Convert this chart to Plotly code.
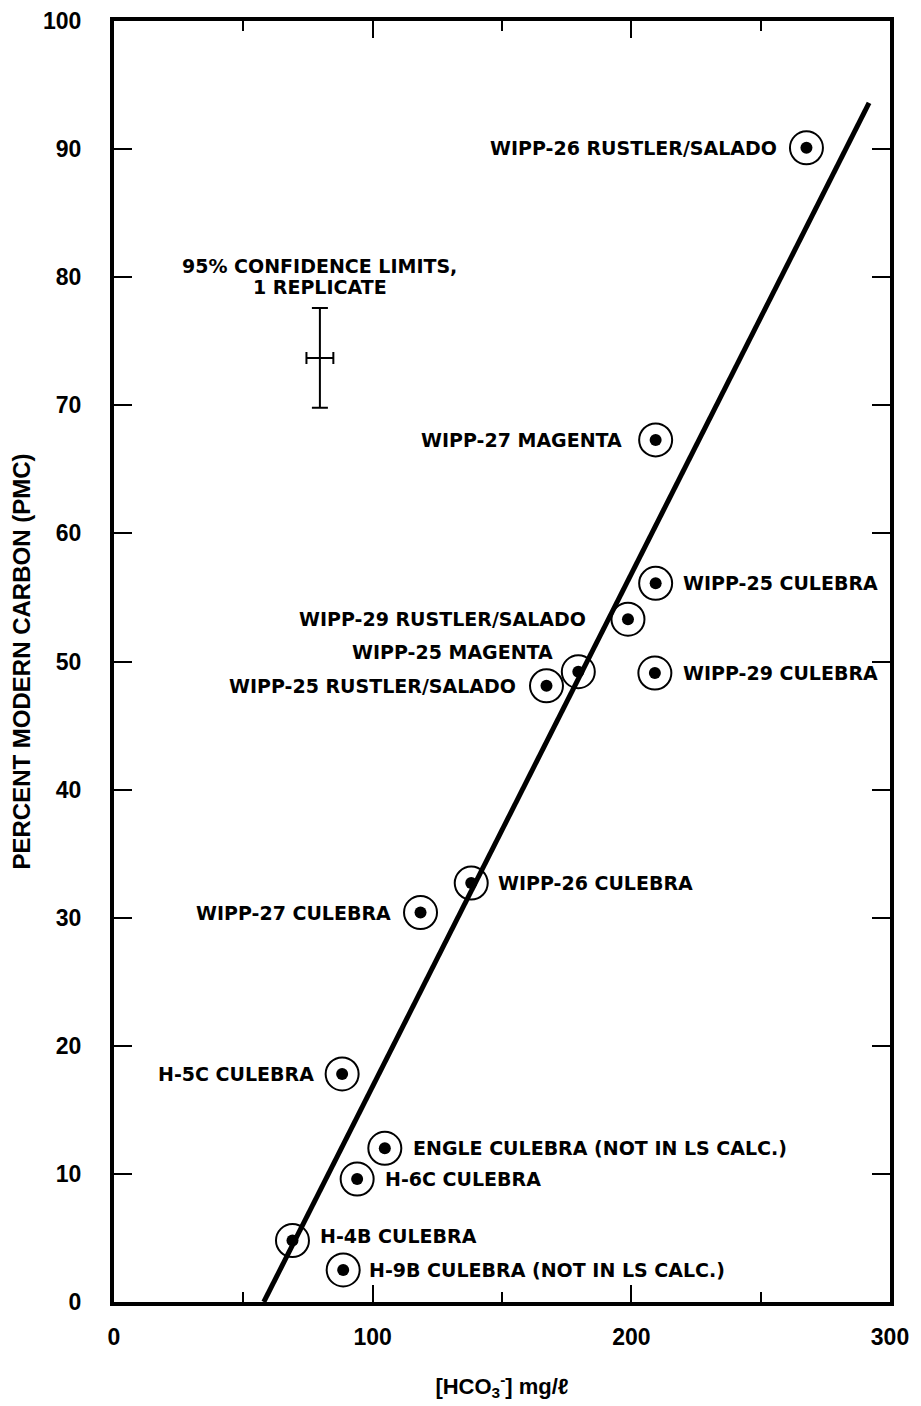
import plotly.graph_objects as go

# ---- data ----
site_labels = [
    "WIPP-26 RUSTLER/SALADO", "WIPP-27 MAGENTA", "WIPP-25 CULEBRA",
    "WIPP-29 RUSTLER/SALADO", "WIPP-25 MAGENTA", "WIPP-25 RUSTLER/SALADO",
    "WIPP-29 CULEBRA", "WIPP-26 CULEBRA", "WIPP-27 CULEBRA", "H-5C CULEBRA",
    "ENGLE CULEBRA (NOT IN LS CALC.)", "H-6C CULEBRA", "H-4B CULEBRA",
    "H-9B CULEBRA (NOT IN LS CALC.)",
]
hco3 = [267.7, 209.4, 209.4, 198.7, 179.5, 167.2, 209.1, 138.1, 118.5, 88.2,
        104.7, 94.0, 69.0, 88.6]
pmc = [90.1, 67.3, 56.1, 53.3, 49.2, 48.1, 49.1, 32.7, 30.4, 17.8,
       12.0, 9.6, 4.8, 2.5]

fit_x = [57.9, 291.9]
fit_y = [0.0, 93.6]

ci_x = [79.6]
ci_y = [73.7]
ci_dx = [5.2]
ci_dy = [3.9]

x_ticks = [0, 100, 200, 300]
y_ticks = [0, 10, 20, 30, 40, 50, 60, 70, 80, 90, 100]

# ---- label placement (style, not data) ----
label_side = ["L", "L", "R", "L", "L", "L", "R", "R", "L", "L", "R", "R", "R", "R"]
label_dx = [-27, -32, 25, -40, -23, -28, 26, 25, -28, -26, 26, 26, 26, 24]
label_dy = [0, 0, 0, 0, 20, 0, 0, 0, 0, 0, 0, 0, 5, 0]

BOLD = "DejaVu Sans"
fig = go.Figure()

fig.add_trace(go.Scatter(x=fit_x, y=fit_y, mode="lines",
                         line=dict(color="black", width=5), hoverinfo="skip"))

fig.add_trace(go.Scatter(x=hco3, y=pmc, mode="markers",
                         marker=dict(symbol="circle-open", size=33, color="black",
                                     line=dict(width=2, color="black"))))
fig.add_trace(go.Scatter(x=hco3, y=pmc, mode="markers",
                         marker=dict(symbol="circle", size=12, color="black")))

fig.add_trace(go.Scatter(
    x=ci_x, y=ci_y, mode="markers", marker=dict(size=1, color="black", opacity=0),
    error_x=dict(type="data", array=ci_dx, color="black", thickness=2, width=6),
    error_y=dict(type="data", array=ci_dy, color="black", thickness=2, width=8),
))

for lab, x, y, side, dx, dy in zip(site_labels, hco3, pmc, label_side, label_dx, label_dy):
    fig.add_annotation(x=x, y=y, text=lab, showarrow=False,
                       xanchor="right" if side == "L" else "left",
                       xshift=dx, yshift=dy,
                       font=dict(family=BOLD, size=19, color="black", weight="bold"))

fig.add_annotation(x=ci_x[0], y=ci_y[0], text="95% CONFIDENCE LIMITS,", showarrow=False,
                   xanchor="center", yshift=92,
                   font=dict(family=BOLD, size=19, color="black", weight="bold"))
fig.add_annotation(x=ci_x[0], y=ci_y[0], text="1 REPLICATE", showarrow=False,
                   xanchor="center", yshift=71,
                   font=dict(family=BOLD, size=19, color="black", weight="bold"))

fig.update_layout(
    width=921, height=1406,
    margin=dict(l=106, r=39, t=13, b=112, autoexpand=False),
    plot_bgcolor="white", paper_bgcolor="white",
    showlegend=False,
)
fig.update_xaxes(
    range=[0, 300], tickvals=x_ticks, ticktext=[str(v) for v in x_ticks],
    automargin=False, ticklabeloverflow="allow",
    showgrid=False, zeroline=False, showline=True, linecolor="black", linewidth=3.5,
    mirror="ticks", ticks="inside", ticklen=17, tickwidth=2, tickcolor="black",
    minor=dict(dtick=50, ticks="inside", ticklen=10, tickwidth=2, tickcolor="black"),
    tickfont=dict(family="Liberation Sans", size=23, color="black", weight="bold"),
    ticklabelstandoff=12,
    title=dict(text="[HCO<sub>3</sub><sup>-</sup>] mg/ℓ",
               font=dict(family="Liberation Sans", size=22, color="black", weight="bold"),
               standoff=30),
)
fig.update_yaxes(
    range=[0, 100], tickvals=y_ticks, ticktext=[str(v) for v in y_ticks],
    automargin=False, ticklabeloverflow="allow",
    showgrid=False, zeroline=False, showline=True, linecolor="black", linewidth=4,
    mirror="ticks", ticks="inside", ticklen=18, tickwidth=2, tickcolor="black",
    tickfont=dict(family="Liberation Sans", size=23, color="black", weight="bold"),
    ticklabelstandoff=24,
    title=dict(text="PERCENT MODERN CARBON (PMC)",
               font=dict(family="Liberation Sans", size=24, color="black", weight="bold"),
               standoff=14),
)

fig.write_html("out.html")
